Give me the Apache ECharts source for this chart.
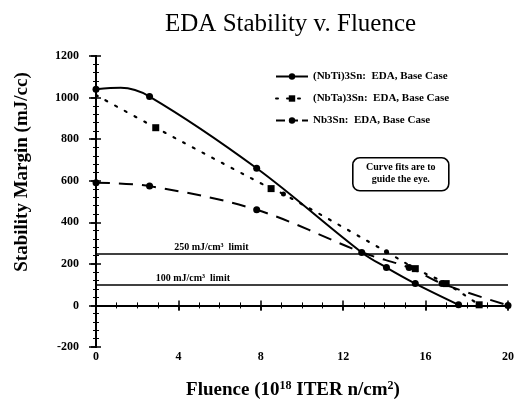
<!DOCTYPE html>
<html><head><meta charset="utf-8">
<script src="https://cdn.jsdelivr.net/npm/echarts@6/dist/echarts.min.js"></script>
<style>html,body{margin:0;padding:0;background:#fff}#c{width:517px;height:405px}</style>
</head><body><div id="c"></div>
<script>
// ---- data ----
const seriesNames = ['(NbTi)3Sn:  EDA, Base Case', '(NbTa)3Sn:  EDA, Base Case', 'Nb3Sn:  EDA, Base Case'];
// [fluence, margin, marker]  marker: 'c' circle, 's' square, 'd' small dot, '' = curve only
const nbtiPoints = [[0,1040,'c'],[1.2,1047,''],[2.6,1005,'c'],[7.8,660,'c'],[12.9,255,'c'],[14.1,182,'c'],[15.5,105,'c'],[17.6,3,'c']];
const nbtaPoints = [[0,1012,''],[2.9,855,'s'],[8.5,562,'s'],[9.1,536,'d'],[14.1,258,'d'],[15.5,177,'s'],[17.0,105,'s'],[18.6,3,'s']];
const nb3snPoints = [[0,590,'c'],[2.6,574,'c'],[7.8,460,'c'],[13.0,252,''],[15.2,182,'c'],[16.8,105,'c'],[20,0,'c']];
const limits = [250, 100];
const limitLabelX = [5.6, 4.7];
const xTicks = [0, 20, 4];
const yTicks = [-200, 1200, 200];
const yAxisTitle = 'Stability Margin (mJ/cc)';
const noteLines = ['Curve fits are to', 'guide the eye.'];

const font = 'Liberation Serif';
function build(points) {
  return points.map(p => {
    const item = {value: [p[0], p[1]]};
    if (p[2] === '') item.symbol = 'none';
    else if (p[2] === 'c') { item.symbol = 'circle'; item.symbolSize = 7; }
    else if (p[2] === 's') { item.symbol = 'rect'; item.symbolSize = 7; }
    else if (p[2] === 'd') { item.symbol = 'circle'; item.symbolSize = 5; }
    return item;
  });
}
const chart = echarts.init(document.getElementById('c'), null, {renderer: 'canvas'});
const axisLine = {show: true, lineStyle: {color: '#000', width: 2}};
const option = {
  animation: false,
  backgroundColor: '#fff',
  title: {text: 'EDA Stability v. Fluence', left: 160, top: 7,
    textStyle: {fontFamily: font, fontSize: 25, fontWeight: 'normal', color: '#000'}},
  grid: {left: 96, right: 7, top: 56, bottom: 57},
  legend: {
    orient: 'vertical', left: 270, top: 66, itemWidth: 32, itemHeight: 8, itemGap: 11,
    textStyle: {fontFamily: font, fontSize: 11, fontWeight: 'bold', color: '#000'},
    data: [
      {name: seriesNames[0]},
      {name: seriesNames[1]},
      {name: seriesNames[2], lineStyle: {type: [9, 4]}}
    ]
  },
  xAxis: [{
    type: 'value', min: xTicks[0], max: xTicks[1], interval: xTicks[2], position: 'bottom',
    axisLine: axisLine, splitLine: {show: false},
    axisTick: {show: true, inside: false, length: 5, lineStyle: {color: '#000', width: 1.5}},
    axisLabel: {fontFamily: font, fontSize: 12, fontWeight: 'bold', color: '#000', margin: 4},
    name: '{a|Fluence (10}{s|18}{a| ITER n/cm}{s|2}{a|)}', nameLocation: 'middle', nameGap: 33,
    nameTextStyle: {padding: [0, 18, 0, 0], rich: {
      a: {fontFamily: font, fontSize: 19, fontWeight: 'bold', color: '#000'},
      s: {fontFamily: font, fontSize: 12, fontWeight: 'bold', color: '#000', verticalAlign: 'top', padding: [0,0,9,0]}
    }}
  }, {
    type: 'value', min: xTicks[0], max: xTicks[1], interval: xTicks[2], position: 'bottom',
    axisLine: {show: false}, splitLine: {show: false}, axisLabel: {show: false},
    axisTick: {show: true, inside: true, length: 5, lineStyle: {color: '#000', width: 1.5}},
    minorTick: {show: true, splitNumber: 4, length: 3, lineStyle: {color: '#000'}}
  }, {
    type: 'value', min: xTicks[0], max: xTicks[1], interval: xTicks[2], position: 'top',
    axisLine: axisLine, splitLine: {show: false}, axisLabel: {show: false},
    axisTick: {show: true, inside: true, length: 5, lineStyle: {color: '#000', width: 1.5}},
    minorTick: {show: true, splitNumber: 4, length: 3, lineStyle: {color: '#000'}}
  }],
  yAxis: [{
    type: 'value', min: yTicks[0], max: yTicks[1], interval: yTicks[2], position: 'left',
    axisLine: axisLine, splitLine: {show: false},
    axisTick: {show: true, inside: false, length: 7, lineStyle: {color: '#000', width: 1.5}},
    axisLabel: {fontFamily: font, fontSize: 12, fontWeight: 'bold', color: '#000', margin: 17,
      formatter: v => String(v)}
  }, {
    type: 'value', min: yTicks[0], max: yTicks[1], interval: yTicks[2], position: 'left',
    axisLine: {show: false}, splitLine: {show: false}, axisLabel: {show: false},
    axisTick: {show: true, inside: true, length: 5, lineStyle: {color: '#000', width: 1.5}},
    minorTick: {show: true, splitNumber: 5, length: 3, lineStyle: {color: '#000'}}
  }, {
    type: 'value', min: yTicks[0], max: yTicks[1], interval: yTicks[2], position: 'right',
    axisLine: axisLine, splitLine: {show: false}, axisLabel: {show: false},
    axisTick: {show: true, inside: true, length: 5, lineStyle: {color: '#000', width: 1.5}},
    minorTick: {show: true, splitNumber: 5, length: 3, lineStyle: {color: '#000'}}
  }],
  series: [{
    name: seriesNames[0], type: 'line', smooth: 0.35, data: build(nbtiPoints),
    symbol: 'circle', symbolSize: 7, itemStyle: {color: '#000'},
    lineStyle: {color: '#000', width: 2},
    markLine: {
      silent: true, symbol: 'none', animation: false,
      lineStyle: {color: '#000', width: 1.6, type: 'solid'}, label: {show: false},
      data: limits.map(v => ({yAxis: v}))
    },
    markPoint: {
      symbol: 'circle', symbolSize: 0,
      label: {show: true, position: 'top', distance: 1, fontFamily: font, fontSize: 10, fontWeight: 'bold', color: '#000',
        formatter: p => p.value + ' mJ/cm³  limit'},
      data: limits.map((v, i) => ({coord: [limitLabelX[i], v], value: v}))
    }
  }, {
    name: seriesNames[1], type: 'line', smooth: 0.35, data: build(nbtaPoints),
    symbol: 'rect', symbolSize: 7, itemStyle: {color: '#000'},
    lineStyle: {color: '#000', width: 2.2, type: [2, 9], cap: 'round'}
  }, {
    name: seriesNames[2], type: 'line', smooth: 0.35, data: build(nb3snPoints),
    symbol: 'circle', symbolSize: 7, itemStyle: {color: '#000'},
    lineStyle: {color: '#000', width: 2, type: [14, 9]}
  }],
  graphic: [{
    type: 'text', x: 22, y: 172, rotation: Math.PI / 2,
    style: {text: yAxisTitle, align: 'center', verticalAlign: 'middle',
      font: 'bold 19px "Liberation Serif"', fill: '#000'}
  }, {
    type: 'group', left: 352, top: 157, children: [
      {type: 'rect', shape: {x: 0, y: 0, width: 96, height: 33, r: 7},
        style: {fill: '#fff', stroke: '#000', lineWidth: 1.6}},
      {type: 'text', style: {x: 48, y: 10, text: noteLines[0], align: 'center', verticalAlign: 'middle',
        font: 'bold 10px "Liberation Serif"', fill: '#000'}},
      {type: 'text', style: {x: 48, y: 22, text: noteLines[1], align: 'center', verticalAlign: 'middle',
        font: 'bold 10px "Liberation Serif"', fill: '#000'}}
    ]
  }]
};
chart.setOption(option);
</script></body></html>
